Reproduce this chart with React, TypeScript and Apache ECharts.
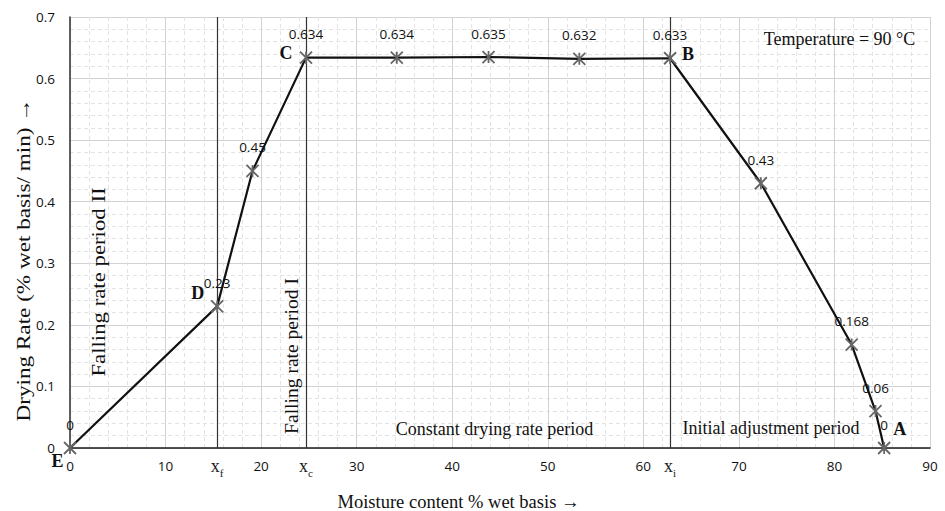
import React, { useEffect, useRef } from 'react';
import * as echarts from 'echarts';

// ---- data ----
const moistureContent = [0, 15.4, 19.1, 24.7, 34.2, 43.8, 53.3, 62.8, 72.3, 81.8, 84.3, 85.2];
const dryingRate = [0, 0.23, 0.45, 0.634, 0.634, 0.635, 0.632, 0.633, 0.43, 0.168, 0.06, 0];
const rateLabels = ['0', '0.23', '0.45', '0.634', '0.634', '0.635', '0.632', '0.633', '0.43', '0.168', '0.06', '0'];
const xAxisRange = [0, 90];
const xAxisStep = 10;
const yAxisRange = [0, 0.7];
const yAxisStep = 0.1;
const criticalMoisture = [15.4, 24.7, 62.8];
const criticalNames = ['f', 'c', 'i'];
const pointLetters = ['E', 'D', 'C', 'B', 'A'];
const pointLetterIndex = [0, 1, 3, 7, 11];
const periodNames = [
  'Falling rate period II',
  'Falling rate period I',
  'Constant drying rate period',
  'Initial adjustment period',
];
const temperatureNote = 'Temperature = 90 °C';
const xAxisTitle = 'Moisture content % wet basis →';
const yAxisTitle = 'Drying Rate (% wet basis/ min) →';

// ---- styles / layout ----
const SERIF = "'Liberation Serif', 'Times New Roman', serif";
const SANS = "'Open Sans', 'Noto Sans', sans-serif";
const letterOffsets: Record<string, [number, number]> = {
  E: [-12.5, 13],
  D: [-19.5, -13],
  C: [-20, -4.5],
  B: [18, -4],
  A: [15.5, -19.5],
};

export default function App() {
  const ref = useRef<HTMLDivElement>(null);

  useEffect(() => {
    if (!ref.current) return;
    const chart = echarts.init(ref.current, undefined, { renderer: 'svg' });

    const option: any = {
      animation: false,
      grid: { left: 70, right: 15, top: 17, bottom: 63 },
      xAxis: {
        type: 'value',
        min: xAxisRange[0],
        max: xAxisRange[1],
        interval: xAxisStep,
        axisLine: { show: true, onZero: false, lineStyle: { color: '#1a1a1a', width: 1.6 } },
        axisTick: { show: false },
        axisLabel: { fontFamily: SANS, fontSize: 13.5, color: '#111', margin: 11 },
        splitLine: { show: true, lineStyle: { color: '#d2d2d2', width: 1 } },
        minorTick: { show: false, splitNumber: 5 },
        minorSplitLine: { show: true, lineStyle: { color: '#e3e3e3', width: 1, type: [4, 3] } },
      },
      yAxis: {
        type: 'value',
        min: yAxisRange[0],
        max: yAxisRange[1],
        interval: yAxisStep,
        axisLine: { show: true, onZero: false, lineStyle: { color: '#3a3a3a', width: 1.6 } },
        axisTick: { show: false },
        axisLabel: { fontFamily: SANS, fontSize: 13.5, color: '#111', margin: 15 },
        splitLine: { show: true, lineStyle: { color: '#d2d2d2', width: 1 } },
        minorTick: { show: false, splitNumber: 5 },
        minorSplitLine: { show: true, lineStyle: { color: '#e3e3e3', width: 1, type: [4, 3] } },
      },
      series: [
        {
          type: 'line',
          data: moistureContent.map((x, i) => [x, dryingRate[i]]),
          lineStyle: { color: '#111', width: 2.2 },
          symbol: 'path://M0,0L10,10M10,0L0,10M5,0L5,10',
          symbolSize: 12,
          itemStyle: { color: 'none', borderColor: '#666', borderWidth: 1.8 },
          label: {
            show: true,
            position: 'top',
            distance: 8,
            formatter: (p: any) => rateLabels[p.dataIndex],
            fontFamily: SANS,
            fontSize: 13.5,
            color: '#111',
          },
          emphasis: { disabled: true },
          z: 5,
          markLine: {
            silent: true,
            symbol: 'none',
            animation: false,
            lineStyle: { color: '#333', width: 1.2, type: 'solid' },
            label: {
              show: true,
              position: 'start',
              distance: 9,
              formatter: (p: any) => `{v|x}{s|${p.name}}`,
              rich: {
                v: { fontFamily: SERIF, fontSize: 18, color: '#222', lineHeight: 18, verticalAlign: 'top' },
                s: { fontFamily: SERIF, fontSize: 11, color: '#222', lineHeight: 11, verticalAlign: 'bottom', padding: [0, 0, -3, 0] },
              },
            },
            emphasis: { disabled: true },
            data: criticalMoisture.map((x, i) => ({ xAxis: x, name: criticalNames[i] })),
          },
        },
      ],
    };

    chart.setOption(option);

    const graphics: any[] = [];
    pointLetters.forEach((letter, k) => {
      const idx = pointLetterIndex[k];
      const px = chart.convertToPixel({ gridIndex: 0 }, [moistureContent[idx], dryingRate[idx]]) as number[];
      const off = letterOffsets[letter];
      graphics.push({
        type: 'text',
        x: px[0] + off[0],
        y: px[1] + off[1],
        style: {
          text: letter,
          font: `bold 18px ${SERIF}`,
          fill: '#111',
          align: 'center',
          verticalAlign: 'middle',
        },
        z: 10,
      });
    });

    const txt = (text: string, x: number, y: number, size: number, rot = 0, sx = 1) => ({
      type: 'text',
      x,
      y,
      rotation: rot,
      scaleX: sx,
      style: {
        text,
        font: `${size}px ${SERIF}`,
        fill: '#111',
        align: 'center',
        verticalAlign: 'middle',
      },
      z: 10,
    });

    graphics.push(txt(periodNames[0], 99, 282, 19, Math.PI / 2, 1.2));
    graphics.push(txt(periodNames[1], 292, 356, 19, Math.PI / 2, 1.03));
    graphics.push(txt(periodNames[2], 494.5, 429, 18));
    graphics.push(txt(periodNames[3], 771, 428, 18));
    graphics.push(txt(temperatureNote, 839.5, 39, 18));
    graphics.push(txt(xAxisTitle, 458.5, 502, 18.5));
    graphics.push(txt(yAxisTitle, 23.5, 260, 19, Math.PI / 2, 1.22));

    chart.setOption({ graphic: graphics });

    return () => chart.dispose();
  }, []);

  return (
    <div
      ref={ref}
      style={{ position: 'fixed', left: 0, top: 0, width: 945, height: 511, background: '#fff' }}
    />
  );
}
